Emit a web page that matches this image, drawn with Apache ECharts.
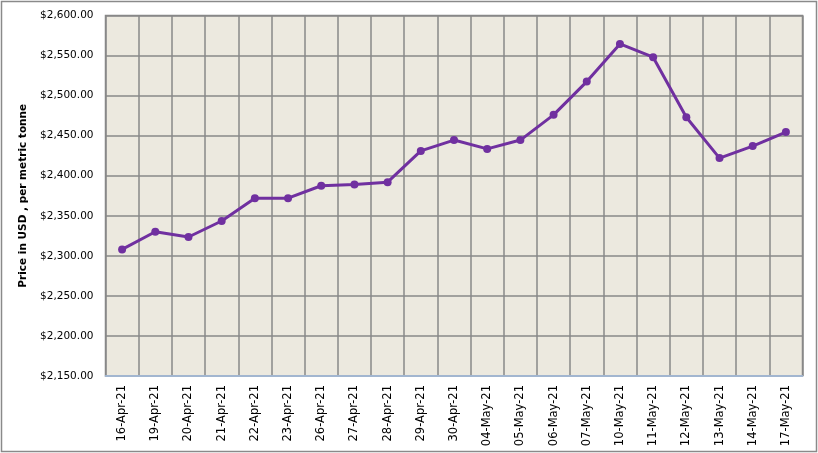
<!DOCTYPE html>
<html>
<head>
<meta charset="utf-8">
<script src="https://cdn.jsdelivr.net/npm/echarts@6/dist/echarts.min.js"></script>
<style>
html,body{margin:0;padding:0;background:#fff;}
#chart{width:818px;height:453px;}
</style>
</head>
<body>
<div id="chart"></div>
<script>
const categories = ['16-Apr-21','19-Apr-21','20-Apr-21','21-Apr-21','22-Apr-21','23-Apr-21','26-Apr-21','27-Apr-21','28-Apr-21','29-Apr-21','30-Apr-21','04-May-21','05-May-21','06-May-21','07-May-21','10-May-21','11-May-21','12-May-21','13-May-21','14-May-21','17-May-21'];
const prices = [2308, 2330, 2323.5, 2343.5, 2372, 2372, 2387.5, 2389, 2392, 2431, 2444.5, 2433.5, 2444.5, 2476, 2517.5, 2564.5, 2548, 2473, 2422, 2437, 2454.5];
const yMin = 2150, yMax = 2600, yStep = 50;
const yTitle = 'Price in USD , per metric tonne';

const chart = echarts.init(document.getElementById('chart'), null, {renderer:'canvas'});
const gridColor = '#888888';
chart.setOption({
  animation: false,
  backgroundColor: '#ffffff',
  graphic: [{
    type: 'rect',
    shape: {x: 1.5, y: 1.5, width: 815, height: 450},
    style: {fill: 'none', stroke: '#8a8a8a', lineWidth: 1.5},
    silent: true
  }],
  grid: {
    left: 105.5, top: 15.5, right: 15.5, bottom: 77,
    show: true, backgroundColor: '#ECE9DF', borderColor: gridColor, borderWidth: 1.5
  },
  xAxis: {
    type: 'category',
    data: categories,
    boundaryGap: true,
    axisLine: {show: true, lineStyle: {color: '#A9C3E6', width: 1.5}},
    axisTick: {show: false},
    splitLine: {show: true, interval: 0, lineStyle: {color: gridColor, width: 1.5}},
    axisLabel: {
      interval: 0, rotate: 90, margin: 9,
      fontFamily: 'DejaVu Sans', fontSize: 11.5, color: '#000'
    }
  },
  yAxis: {
    type: 'value',
    min: yMin, max: yMax, interval: yStep,
    name: yTitle,
    nameLocation: 'middle',
    nameRotate: 90,
    nameGap: 77,
    nameTextStyle: {fontFamily: 'DejaVu Sans', fontWeight: 'bold', fontSize: 10.5, color: '#000'},
    axisLine: {show: false},
    axisTick: {show: false},
    splitLine: {show: true, lineStyle: {color: gridColor, width: 1.5}},
    axisLabel: {
      margin: 12,
      fontFamily: 'DejaVu Sans', fontSize: 10.5, color: '#000',
      formatter: v => '$' + v.toLocaleString('en-US', {minimumFractionDigits: 2, maximumFractionDigits: 2})
    }
  },
  series: [{
    type: 'line',
    data: prices,
    symbol: 'circle',
    symbolSize: 8,
    lineStyle: {color: '#7030A0', width: 3},
    itemStyle: {color: '#7030A0'}
  }]
});
</script>
</body>
</html>
